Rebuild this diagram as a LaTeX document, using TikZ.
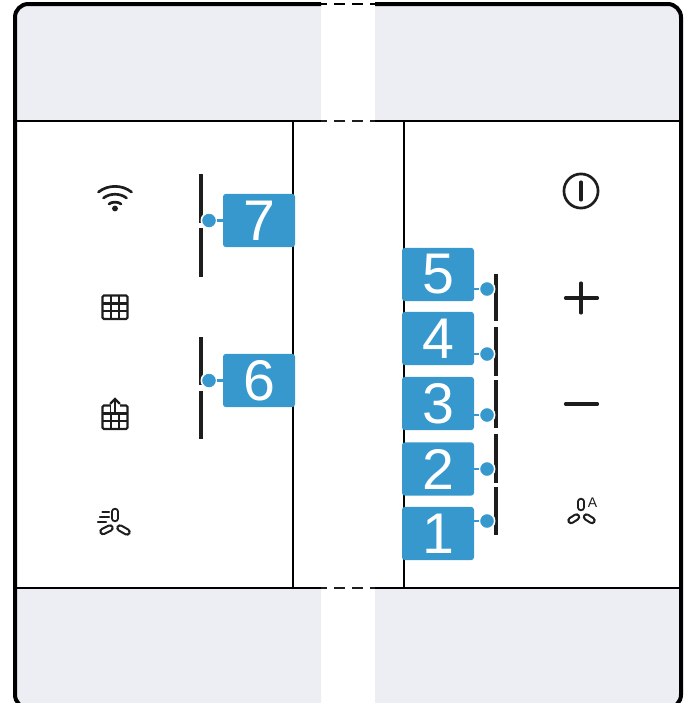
\documentclass[tikz,border=0pt]{standalone}
\usepackage{fontspec}
\setmainfont{Liberation Sans}
\usepackage{xcolor}
\usetikzlibrary{positioning}
\definecolor{badgeblue}{HTML}{3698CC}
\definecolor{panelgray}{HTML}{EDEEF3}
\definecolor{inkblack}{HTML}{1D1D1B}
\tikzset{
  line cap=butt,
  frameline/.style={draw=black, line width=3pt},
  thinline/.style={draw=black, line width=1.5pt},
  dashtop/.style={draw=black, line width=2.2pt, dash pattern=on 7.9pt off 5.6pt, dash phase=3.4pt},
  dashmid/.style={draw=inkblack, line width=1.1pt, dash pattern=on 7.9pt off 5.6pt, dash phase=3.4pt},
  badge/.style={fill=badgeblue, text=white, rounded corners=2.2pt, minimum width=54pt, minimum height=40pt, inner sep=0pt, font=\fontsize{43}{43}\selectfont},
  dotmark/.style={circle, fill=badgeblue, draw=white, line width=1.2pt, minimum size=11.5pt, inner sep=0pt},
  stem/.style={draw=badgeblue, line width=1.8pt},
  slider/.style={draw=inkblack, line width=3pt},
  icon/.style={draw=inkblack, line width=2pt, line cap=round},
  signline/.style={draw=inkblack, line width=2.3pt, line cap=round},
  iconthin/.style={draw=inkblack, line width=1.6pt, line cap=round},
  blade/.style={draw=inkblack, double=white, line width=1.6pt, double distance=2.4pt, line cap=round}
}

\begin{document}
\begin{tikzpicture}[x=0.75pt, y=-0.75pt]
\useasboundingbox (0,0) rectangle (689,703);
\clip (0,0) rectangle (689,703);

% panels
\fill[panelgray] (321,4) [rounded corners=10pt] -- (15,4) [sharp corners] -- (15,121) -- (321,121) -- cycle;
\fill[panelgray] (375,4) [rounded corners=10pt] -- (681,4) [sharp corners] -- (681,121) -- (375,121) -- cycle;
\fill[panelgray] (321,708) [rounded corners=10pt] -- (15,708) [sharp corners] -- (15,588) -- (321,588) -- cycle;
\fill[panelgray] (375,708) [rounded corners=10pt] -- (681,708) [sharp corners] -- (681,588) -- (375,588) -- cycle;

% frame
\draw[frameline, rounded corners=10pt] (321,4) -- (15,4) -- (15,708) -- (321,708);
\draw[frameline, rounded corners=10pt] (375,4) -- (681,4) -- (681,708) -- (375,708);
\draw[dashtop] (321,4) -- (375,4);

% horizontal and vertical lines
\draw[thinline] (15,121) -- (321,121);
\draw[thinline] (375,121) -- (681,121);
\draw[thinline] (15,588) -- (321,588);
\draw[thinline] (375,588) -- (681,588);
\draw[dashmid] (321,121) -- (375,121);
\draw[dashmid] (321,588) -- (375,588);
\draw[thinline] (293,121) -- (293,588);
\draw[thinline] (404,121) -- (404,588);

% sliders
\draw[slider] (201,174) -- (201,223);
\draw[slider] (201,228) -- (201,277);
\draw[slider] (201,337) -- (201,385);
\draw[slider] (201,391) -- (201,439);
\draw[slider] (496,274) -- (496,321);
\draw[slider] (496,327) -- (496,376);
\draw[slider] (496,380) -- (496,428);
\draw[slider] (496,434) -- (496,483);
\draw[slider] (496,487) -- (496,535);

% wifi icon
\draw[icon] (98.5,192) .. controls (108,184.5) and (122,184.5) .. (131.5,192);
\draw[icon] (103.5,198) .. controls (110,193) and (120,193) .. (126.5,198);
\draw[icon] (109,204) .. controls (112,201.5) and (118,201.5) .. (121,204);
\fill[inkblack] (115,208.5) circle (2.2pt);

% grid icon
\draw[iconthin, rounded corners=1pt] (102.5,295.5) rectangle (127.5,319);
\draw[iconthin, line cap=butt] (111,295.5) -- (111,319);
\draw[iconthin, line cap=butt] (119,295.5) -- (119,319);
\draw[iconthin, line cap=butt] (102.5,303.5) -- (127.5,303.5);
\draw[iconthin, line cap=butt] (102.5,311) -- (127.5,311);

% grid with arrow icon
\draw[iconthin, rounded corners=1pt] (102.5,405.5) rectangle (127.5,429);
\draw[iconthin, line cap=butt] (111,405.5) -- (111,429);
\draw[iconthin, line cap=butt] (119,405.5) -- (119,429);
\draw[iconthin, line cap=butt] (102.5,413.5) -- (127.5,413.5);
\draw[iconthin, line cap=butt] (102.5,421) -- (127.5,421);
\fill[white] (110.5,403) rectangle (119.5,412);
\draw[iconthin] (115,400) -- (115,412);
\draw[iconthin] (110.5,403.5) -- (115,399) -- (119.5,403.5);

% fan icon
\draw[iconthin] (102.5,512) -- (109,512);
\draw[iconthin] (100,517) -- (109,517);
\draw[iconthin] (98,522) -- (106,522);
\draw[blade] (115,511.5) -- (115,518.5);
\draw[blade] (103,531.5) -- (110,528);
\draw[blade] (120,528) -- (127,532);

% power icon
\draw[icon] (581,191) circle (12.8pt);
\draw[signline] (581,182) -- (581,200);

% plus and minus
\draw[signline] (565.5,298) -- (597.5,298);
\draw[signline] (581,283) -- (581,313);
\draw[signline] (565.5,404) -- (597.5,404);

% auto fan icon
\draw[blade] (581,501.5) -- (581,507.5);
\draw[blade] (571,520.5) -- (576.5,517);
\draw[blade] (586.5,517) -- (592,520.5);
\node[text=inkblack, font=\fontsize{10.5}{10.5}\selectfont, inner sep=0pt] (autolabel) at (592.5,503) {A};

% badges
\node[badge] (badge7) at (259,220.5) {7};
\node[badge] (badge6) at (259,380.5) {6};
\node[badge] (badge5) at (438,274.5) {5};
\node[badge] (badge4) at (438,338.5) {4};
\node[badge] (badge3) at (438,403.5) {3};
\node[badge] (badge2) at (438,469) {2};
\node[badge] (badge1) at (438,533.5) {1};

% dots
\node[dotmark] (dot7) at (209,220.5) {};
\node[dotmark] (dot6) at (209,380.5) {};
\node[dotmark] (dot5) at (487,289) {};
\node[dotmark] (dot4) at (487,354) {};
\node[dotmark] (dot3) at (487,415) {};
\node[dotmark] (dot2) at (487,469) {};
\node[dotmark] (dot1) at (487,521) {};

% stems
\draw[stem] (dot7) -- (badge7);
\draw[stem] (dot6) -- (badge6);
\draw[stem] (dot5) -- (dot5 -| badge5.east);
\draw[stem] (dot4) -- (dot4 -| badge4.east);
\draw[stem] (dot3) -- (dot3 -| badge3.east);
\draw[stem] (dot2) -- (badge2);
\draw[stem] (dot1) -- (dot1 -| badge1.east);

\end{tikzpicture}
\end{document}
